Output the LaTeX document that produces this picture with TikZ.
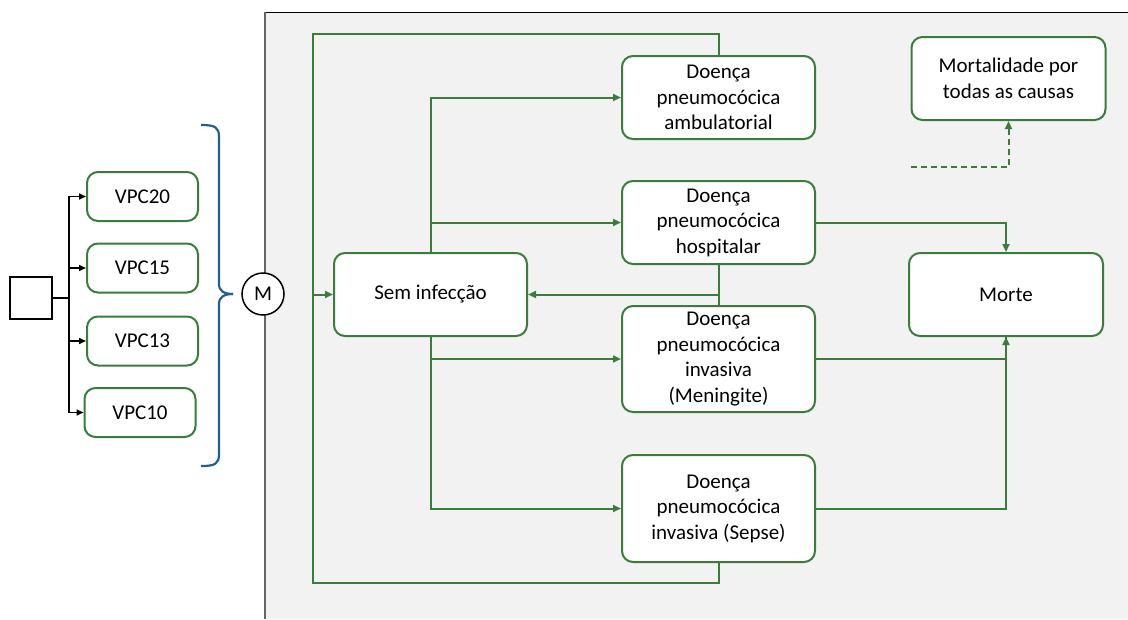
\documentclass[tikz,border=0pt]{standalone}
\usepackage{fontspec}
\setmainfont{Carlito}
\usetikzlibrary{arrows.meta}
\definecolor{gr}{RGB}{58,125,58}
\definecolor{bg}{RGB}{242,242,242}
\definecolor{br}{RGB}{31,96,140}
\tikzset{
  box/.style={draw=gr, line width=2pt, fill=white, rounded corners=11pt, align=center,
    font=\fontsize{21}{25.5}\selectfont, inner sep=0pt},
  vbox/.style={box, minimum width=111pt, minimum height=49pt},
  big/.style={box, minimum width=193pt, minimum height=83pt},
  link/.style={draw=gr, line width=2pt},
  arr/.style={link, -{Triangle[length=8pt,width=7pt]}},
  blk/.style={draw=black, line width=1.5pt, -{Triangle[length=7pt,width=6pt]}},
}
\begin{document}
\begin{tikzpicture}[x=1pt,y=-1pt]
\useasboundingbox (0,0) rectangle (1128,619);
% background panel
\fill[bg] (265,12) rectangle (1128,619);
\draw[black, line width=1.5pt] (265,12.5) -- (1128,12.5);
\draw[black!60, line width=1.5pt] (265,12) -- (265,619);

% left part
\node[draw=black, line width=1.5pt, minimum size=42pt, inner sep=0pt] (sq) at (31,298) {};
\node[vbox] (v20) at (142.5,196.5) {VPC20};
\node[vbox] (v15) at (142.5,268) {VPC15};
\node[vbox] (v13) at (142.5,341) {VPC13};
\node[vbox] (v10) at (140,412.5) {VPC10};
\coordinate (bus) at (69,298);
\draw[black, line width=1.5pt] (sq.east) -- (bus);
\draw[blk] (bus) |- (v20.west);
\draw[blk] (bus) |- (v15.west);
\draw[blk] (bus) |- (v13.west);
\draw[blk] (bus) |- (v10.west);
\draw[black, line width=1.5pt] (bus |- v20.west) -- (bus |- v10.west);

% brace
\draw[br, line width=2.2pt] (201,125) .. controls (215,125) and (219,127) .. (219,137)
  -- (219,284) .. controls (219,291) and (224,294) .. (233,294);
\draw[br, line width=2.2pt] (201,466) .. controls (215,466) and (219,464) .. (219,454)
  -- (219,304) .. controls (219,297) and (224,294) .. (233,294);

\node[draw=black, line width=1.5pt, fill=white, circle, minimum size=42pt, inner sep=0pt,
  font=\fontsize{21}{24}\selectfont] (m) at (263,294) {M};

% main nodes
\node[big] (sem) at (430.5,294.5) {Sem infecção};
\node[big] (amb) at (718.5,97.5) {Doença\\pneumocócica\\ambulatorial};
\node[big] (hosp) at (718.5,222.5) {Doença\\pneumocócica\\hospitalar};
\node[big, minimum height=106pt] (men) at (718.5,359) {Doença\\pneumocócica\\invasiva\\(Meningite)};
\node[big, minimum height=107pt] (sep) at (718.5,508.5) {Doença\\pneumocócica\\invasiva (Sepse)};
\node[big, minimum width=194pt] (mor) at (1006,294.5) {Morte};
\node[big, minimum width=194pt] (tot) at (1008.5,78.5) {Mortalidade por\\todas as causas};

% loop
\coordinate (ltop) at (313,34);
\coordinate (lbot) at (313,583);
\draw[link] (amb.north) |- (ltop) -- (lbot) -| (sep.south);
\draw[arr] (ltop |- sem.west) -- (sem.west);

% from sem infeccao
\draw[arr] (sem.north) |- (amb.west);
\draw[arr] (sem.north |- hosp.west) -- (hosp.west);
\draw[arr] (sem.south) |- (men.west);
\draw[arr] (sem.south) |- (sep.west);

% back to sem infeccao
\draw[link] (hosp.south) -- (men.north);
\draw[arr] (hosp.south |- sem.east) -- (sem.east);

% to morte
\draw[arr] (hosp.east) -| (mor.north);
\draw[link] (men.east) -| (mor.south);
\draw[arr] (sep.east) -| (mor.south);

% dashed
\coordinate (ds) at (911,167);
\draw[arr, dash pattern=on 6pt off 4pt] (ds) -| (tot.south);
\end{tikzpicture}
\end{document}
